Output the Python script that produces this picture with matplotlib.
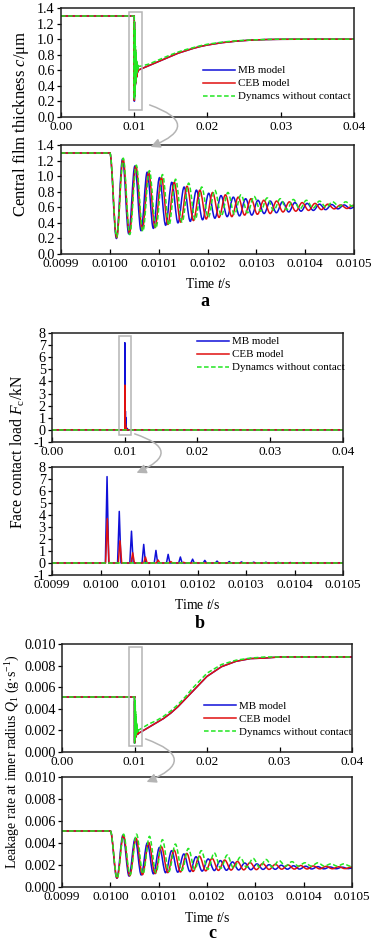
import matplotlib
matplotlib.use("Agg")
from matplotlib import pyplot as plt
from matplotlib.patches import Rectangle, FancyArrowPatch, PathPatch
from matplotlib.path import Path
from matplotlib.ticker import FormatStrFormatter, MultipleLocator

plt.rcParams['font.family'] = ['Liberation Serif', 'DejaVu Serif']
plt.rcParams['mathtext.fontset'] = 'custom'
plt.rcParams['mathtext.rm'] = 'Liberation Serif'
plt.rcParams['mathtext.it'] = 'Liberation Serif:italic'
plt.rcParams['font.size'] = 9.5

###############
## READ DATA ##
###############
LABELS = ["MB model", "CEB model", "Dynamcs without contact"]

# times of the troughs / peaks (alternating) after the impact at t = 0.0100 s
t_mb = [0.0100135, 0.0100261, 0.0100387, 0.0100513, 0.0100639, 0.0100765,
        0.0100891, 0.0101017, 0.0101143, 0.0101269, 0.0101395, 0.0101521,
        0.0101647, 0.0101773, 0.0101899, 0.0102025, 0.0102151, 0.0102277,
        0.0102403, 0.0102529, 0.0102655, 0.0102781, 0.0102907, 0.0103033,
        0.0103159, 0.0103285, 0.0103411, 0.0103537, 0.0103663, 0.0103789,
        0.0103915, 0.0104041, 0.0104167, 0.0104293, 0.0104419, 0.0104545,
        0.0104671, 0.0104797, 0.0104923]
t_ceb = [0.0100140, 0.0100271, 0.0100402, 0.0100533, 0.0100664, 0.0100795,
         0.0100926, 0.0101057, 0.0101188, 0.0101319, 0.0101450, 0.0101581,
         0.0101712, 0.0101843, 0.0101974, 0.0102105, 0.0102236, 0.0102367,
         0.0102498, 0.0102629, 0.0102760, 0.0102891, 0.0103022, 0.0103153,
         0.0103284, 0.0103415, 0.0103546, 0.0103677, 0.0103808, 0.0103939,
         0.0104070, 0.0104201, 0.0104332, 0.0104463, 0.0104594, 0.0104725,
         0.0104856, 0.0104987]
t_dyn = [0.0100140, 0.0100274, 0.0100408, 0.0100542, 0.0100676, 0.0100810,
         0.0100944, 0.0101078, 0.0101212, 0.0101346, 0.0101480, 0.0101614,
         0.0101748, 0.0101882, 0.0102016, 0.0102150, 0.0102284, 0.0102418,
         0.0102552, 0.0102686, 0.0102820, 0.0102954, 0.0103088, 0.0103222,
         0.0103356, 0.0103490, 0.0103624, 0.0103758, 0.0103892, 0.0104026,
         0.0104160, 0.0104294, 0.0104428, 0.0104562, 0.0104696, 0.0104830,
         0.0104964]

# (a) central film thickness, um
h_start = 1.30
h_mb = [0.20, 1.22, 0.26, 1.13, 0.30, 1.05, 0.33, 0.98, 0.37, 0.92, 0.40, 0.86,
        0.42, 0.82, 0.44, 0.78, 0.46, 0.75, 0.48, 0.73, 0.49, 0.71, 0.50, 0.69,
        0.52, 0.68, 0.53, 0.67, 0.54, 0.66, 0.55, 0.65, 0.56, 0.64, 0.57, 0.635,
        0.58, 0.63, 0.585]
h_ceb = [0.21, 1.22, 0.27, 1.13, 0.31, 1.05, 0.34, 0.98, 0.38, 0.92, 0.41, 0.87,
         0.43, 0.82, 0.45, 0.79, 0.47, 0.76, 0.48, 0.73, 0.50, 0.71, 0.51, 0.69,
         0.52, 0.68, 0.54, 0.67, 0.55, 0.66, 0.56, 0.65, 0.57, 0.64, 0.58, 0.63,
         0.585, 0.625]
h_dyn = [0.22, 1.23, 0.25, 1.14, 0.29, 1.07, 0.33, 1.02, 0.37, 0.96, 0.41, 0.91,
         0.44, 0.86, 0.47, 0.82, 0.49, 0.79, 0.51, 0.76, 0.53, 0.74, 0.55, 0.72,
         0.56, 0.71, 0.57, 0.70, 0.58, 0.69, 0.59, 0.68, 0.60, 0.67, 0.61, 0.67,
         0.615]
h_end = [0.60, 0.61, 0.65]
rec_t = [0.0105, 0.011, 0.012, 0.013, 0.014, 0.015, 0.016, 0.017, 0.018, 0.019,
         0.020, 0.022, 0.024, 0.026, 0.028, 0.030, 0.035, 0.040]
h_rec = [0.60, 0.62, 0.66, 0.70, 0.74, 0.78, 0.82, 0.85, 0.88, 0.905,
         0.925, 0.955, 0.975, 0.988, 0.995, 0.998, 1.0, 1.0]
h_rec_dyn = [0.65, 0.655, 0.68, 0.72, 0.76, 0.80, 0.835, 0.865, 0.89, 0.915,
             0.935, 0.962, 0.98, 0.99, 0.996, 1.0, 1.0, 1.0]

# (b) face contact load peaks, kN (one per trough of the film thickness)
f_mb = [7.2, 4.3, 2.65, 1.55, 1.05, 0.72, 0.50, 0.32, 0.22, 0.16, 0.12, 0.09,
        0.07, 0.06, 0.05, 0.04, 0.035, 0.03, 0.025, 0.02]
f_ceb = [3.7, 1.85, 0.85, 0.50, 0.25, 0.12, 0.06, 0.03, 0.015, 0.01, 0.0, 0.0,
         0.0, 0.0, 0.0, 0.0, 0.0, 0.0, 0.0]
SPIKE_HALF = 3.5e-6

# (c) leakage rate at inner radius, g/s
q_start = 0.0051
q_mb = [0.00080, 0.00470, 0.00100, 0.00440, 0.00110, 0.00400, 0.00120, 0.00360,
        0.00130, 0.00330, 0.00135, 0.00300, 0.00140, 0.00275, 0.00145, 0.00255,
        0.00150, 0.00240, 0.00152, 0.00228, 0.00155, 0.00218, 0.00157, 0.00210,
        0.00160, 0.00203, 0.00161, 0.00198, 0.00162, 0.00193, 0.00163, 0.00189,
        0.00164, 0.00185, 0.00165, 0.00182, 0.00166, 0.00180, 0.00167]
q_ceb = [0.00082, 0.00470, 0.00102, 0.00442, 0.00112, 0.00403, 0.00122, 0.00365,
         0.00131, 0.00335, 0.00137, 0.00305, 0.00142, 0.00280, 0.00147, 0.00260,
         0.00151, 0.00245, 0.00154, 0.00232, 0.00156, 0.00222, 0.00158, 0.00213,
         0.00160, 0.00206, 0.00162, 0.00200, 0.00163, 0.00195, 0.00164, 0.00191,
         0.00165, 0.00187, 0.00166, 0.00184, 0.00167, 0.00181]
q_dyn = [0.00080, 0.00480, 0.00110, 0.00480, 0.00120, 0.00460, 0.00130, 0.00430,
         0.00140, 0.00390, 0.00150, 0.00350, 0.00160, 0.00330, 0.00160, 0.00310,
         0.00170, 0.00290, 0.00170, 0.00270, 0.00180, 0.00260, 0.00180, 0.00250,
         0.00180, 0.00240, 0.00190, 0.00230, 0.00190, 0.00220, 0.00190, 0.00220,
         0.00190, 0.00210, 0.00190, 0.00210, 0.00190]
q_end = [0.00172, 0.00172, 0.00200]
q_rec = [0.00172, 0.0019, 0.0023, 0.0027, 0.0031, 0.0036, 0.0042, 0.0049, 0.0056,
         0.0063, 0.0070, 0.0079, 0.0084, 0.00865, 0.0087, 0.0088, 0.0088, 0.0088]
q_rec_dyn = [0.0020, 0.0022, 0.0026, 0.0029, 0.0033, 0.0038, 0.0044, 0.0051, 0.0059,
             0.0066, 0.0073, 0.0081, 0.0085, 0.0087, 0.0088, 0.0088, 0.0088, 0.0088]

###########
## STYLE ##
###########
W, H = 376, 940
COLORS = ['#1010d8', '#e01010', '#22e622']
STYLES = ['-', '-', (0, (3, 1.6))]
LW = 1.1
GRAY = '#b4b4b4'


def osc_nodes(t_ext, v_ext, v0, v_end):
    return [0.0100] + t_ext + [0.0105], [v0] + v_ext + [v_end]


def smooth_path(xs, ys):
    # cubic segments between extrema with flat tangents at each node
    verts, codes = [(xs[0], ys[0])], [Path.MOVETO]
    for i in range(1, len(xs)):
        dx = xs[i] - xs[i - 1]
        verts += [(xs[i - 1] + 0.36 * dx, ys[i - 1]), (xs[i] - 0.36 * dx, ys[i]), (xs[i], ys[i])]
        codes += [Path.CURVE4] * 3
    return Path(verts, codes)


def spike_curve(t_ext, peaks, t0, t_end):
    xs, ys = [t0], [0.0]
    for t, f in zip(t_ext[0::2], peaks):
        xs += [t - SPIKE_HALF, t, t + SPIKE_HALF]
        ys += [0.0, f, 0.0]
    return xs + [t_end], ys + [0.0]


def make_axes(fig, left, top, right, bottom):
    ax = fig.add_axes([left / W, 1 - bottom / H, (right - left) / W, (bottom - top) / H])
    for s in ax.spines.values():
        s.set_linewidth(1.1)
        s.set_color('#202020')
    ax.tick_params(axis='x', direction='in', length=3.5, width=0.9, pad=3.2, labelsize=9.6)
    ax.tick_params(axis='y', direction='out', length=3, width=0.9, pad=1.5, labelsize=10.2)
    return ax


def draw_osc(ax, series, full):
    # series: (t_ext, v_ext, v0, v_end, v_rec) per model
    for k, ((t_ext, v_ext, v0, v_end, v_rec), c, ls) in enumerate(zip(series, COLORS, STYLES)):
        z = 2 + 0.1 * k
        xs, ys = osc_nodes(t_ext, v_ext, v0, v_end)
        x_start = 0.0 if full else 0.0099
        ax.plot([x_start, 0.0100], [v0, v0], color=c, linestyle=ls, linewidth=LW, zorder=z)
        ax.add_patch(PathPatch(smooth_path(xs, ys), fill=False, edgecolor=c, linestyle=ls,
                               linewidth=LW, zorder=z))
        if full:
            ax.plot(rec_t, v_rec, color=c, linestyle=ls, linewidth=LW, zorder=z)


def draw_lines(ax, curves):
    for k, ((xs, ys), c, ls) in enumerate(zip(curves, COLORS, STYLES)):
        ax.plot(xs, ys, color=c, linestyle=ls, linewidth=LW, zorder=2 + 0.1 * k)


def style_top(ax, ylim, ystep, yfmt):
    ax.set_xlim(0, 0.04)
    ax.xaxis.set_major_locator(MultipleLocator(0.01))
    ax.xaxis.set_major_formatter(FormatStrFormatter('%.2f'))
    ax.set_ylim(*ylim)
    ax.yaxis.set_major_locator(MultipleLocator(ystep))
    ax.yaxis.set_major_formatter(FormatStrFormatter(yfmt))


def style_zoom(ax, ylim, ystep, yfmt):
    ax.set_xlim(0.0099, 0.0105)
    ax.set_xticks([0.0099, 0.0100, 0.0101, 0.0102, 0.0103, 0.0104, 0.0105])
    ax.xaxis.set_major_formatter(FormatStrFormatter('%.4f'))
    ax.set_ylim(*ylim)
    ax.yaxis.set_major_locator(MultipleLocator(ystep))
    ax.yaxis.set_major_formatter(FormatStrFormatter(yfmt))


def legend(ax, x, y):
    handles = [ax.plot([], [], color=c, linestyle=ls, linewidth=LW)[0]
               for c, ls in zip(COLORS, STYLES)]
    ax.legend(handles, LABELS, loc='upper left', bbox_to_anchor=(x, y), frameon=False,
              fontsize=7.9, handlelength=2.9, handletextpad=0.3, labelspacing=0.3,
              borderaxespad=0, borderpad=0)


def zoom_box(ax, x0, x1, y0, y1):
    ax.add_patch(Rectangle((x0, y0), x1 - x0, y1 - y0, fill=False, edgecolor=GRAY,
                           linewidth=1.1, zorder=5))


def zoom_arrow(fig, p0, p1):
    fig.patches.append(FancyArrowPatch((p0[0] / W, 1 - p0[1] / H), (p1[0] / W, 1 - p1[1] / H),
                                       transform=fig.transFigure, connectionstyle='arc3,rad=-1.35',
                                       arrowstyle='-|>', mutation_scale=14, color=GRAY,
                                       linewidth=1.1))


fig = plt.figure(figsize=(W / 100, H / 100), dpi=100)

###################
## (a) THICKNESS ##
###################
a_series = [(t_mb, h_mb, h_start, h_end[0], h_rec),
            (t_ceb, h_ceb, h_start, h_end[1], h_rec),
            (t_dyn, h_dyn, h_start, h_end[2], h_rec_dyn)]
ax = make_axes(fig, 61, 8, 354, 117)
draw_osc(ax, a_series, True)
style_top(ax, (0, 1.4), 0.2, '%.1f')
zoom_box(ax, 0.00928, 0.01106, 0.09, 1.35)
legend(ax, 0.485, 0.47)

ax = make_axes(fig, 61, 145, 354, 254)
draw_osc(ax, a_series, False)
style_zoom(ax, (0, 1.4), 0.2, '%.1f')
zoom_arrow(fig, (147, 104), (148, 148))
fig.text(21 / W, 1 - 124 / H, 'Central film thickness $c$/μm', rotation=90, ha='center',
         va='center', fontsize=12)
fig.text(208 / W, 1 - 284 / H, 'Time $t$/s', ha='center', va='center', fontsize=9.8)
fig.text(205 / W, 1 - 302 / H, 'a', ha='center', va='center', fontsize=13, fontweight='bold')

##############
## (b) LOAD ##
##############
ax = make_axes(fig, 52, 333, 343, 442)
draw_lines(ax, [spike_curve(t_mb, f_mb, 0.0, 0.04), spike_curve(t_ceb, f_ceb, 0.0, 0.04),
                ([0.0, 0.04], [0.0, 0.0])])
style_top(ax, (-1, 8), 1, '%d')
zoom_box(ax, 0.0092, 0.01086, -0.4, 7.75)
legend(ax, 0.498, 0.965)

ax = make_axes(fig, 52, 467, 343, 575)
draw_lines(ax, [spike_curve(t_mb, f_mb, 0.0099, 0.0105),
                spike_curve(t_ceb, f_ceb, 0.0099, 0.0105),
                ([0.0099, 0.0105], [0.0, 0.0])])
style_zoom(ax, (-1, 8), 1, '%d')
zoom_arrow(fig, (132, 433), (134, 474))
fig.text(18 / W, 1 - 452 / H, 'Face contact load $F_\\mathrm{c}$/kN', rotation=90, ha='center',
         va='center', fontsize=11.3)
fig.text(197 / W, 1 - 605 / H, 'Time $t$/s', ha='center', va='center', fontsize=9.8)
fig.text(200 / W, 1 - 623 / H, 'b', ha='center', va='center', fontsize=13, fontweight='bold')

#################
## (c) LEAKAGE ##
#################
c_series = [(t_mb, q_mb, q_start, q_end[0], q_rec),
            (t_ceb, q_ceb, q_start, q_end[1], q_rec),
            (t_dyn, q_dyn, q_start, q_end[2], q_rec_dyn)]
ax = make_axes(fig, 62, 644, 352, 752)
draw_osc(ax, c_series, True)
style_top(ax, (0, 0.010), 0.002, '%.3f')
zoom_box(ax, 0.00924, 0.0111, 0.00055, 0.0097)
legend(ax, 0.49, 0.47)

ax = make_axes(fig, 62, 777, 352, 887)
draw_osc(ax, c_series, False)
style_zoom(ax, (0, 0.010), 0.002, '%.3f')
zoom_arrow(fig, (143, 738), (144, 783))
fig.text(13 / W, 1 - 762 / H, 'Leakage rate at inner radius $Q_1$ (g·s$^{-1}$)', rotation=90,
         ha='center', va='center', fontsize=10)
fig.text(207 / W, 1 - 918 / H, 'Time $t$/s', ha='center', va='center', fontsize=9.8)
fig.text(212 / W, 1 - 933 / H, 'c', ha='center', va='center', fontsize=13, fontweight='bold')

fig.savefig('out.png', dpi=100)
